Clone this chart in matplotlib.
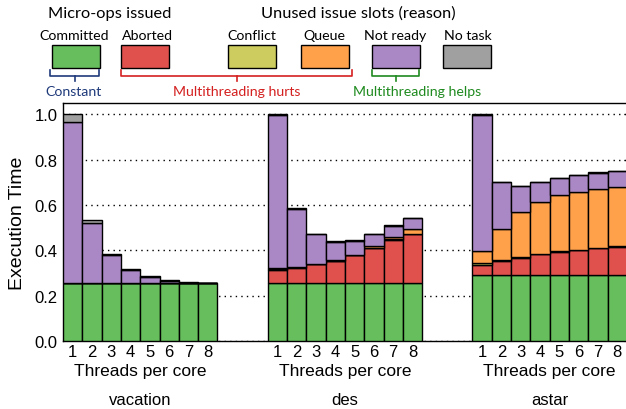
import matplotlib
matplotlib.use('Agg')
import matplotlib.pyplot as plt
from matplotlib.patches import Rectangle
from matplotlib.lines import Line2D
import numpy as np

plt.rcParams['font.family'] = ['Liberation Sans', 'DejaVu Sans']

# data
benchmarks = ['vacation', 'des', 'astar']
threads = ['1', '2', '3', '4', '5', '6', '7', '8']
components = ['Committed', 'Aborted', 'Conflict', 'Queue', 'Not ready', 'No task']
colors = ['#66bf5c', '#e0514d', '#cdcc5e', '#ffa04a', '#aa88c5', '#a0a0a0']

committed = {
    'vacation': [0.254] * 8,
    'des': [0.254] * 8,
    'astar': [0.292] * 8,
}
aborted = {
    'vacation': [0, 0, 0, 0, 0, 0, 0, 0],
    'des': [0.059, 0.068, 0.084, 0.100, 0.125, 0.156, 0.192, 0.217],
    'astar': [0.043, 0.059, 0.075, 0.090, 0.101, 0.109, 0.118, 0.123],
}
conflict = {
    'vacation': [0, 0, 0, 0, 0, 0, 0, 0],
    'des': [0.006, 0.003, 0.002, 0.001, 0.001, 0.002, 0.003, 0.003],
    'astar': [0.008, 0.007, 0.003, 0.002, 0.002, 0.002, 0.002, 0.002],
}
queue = {
    'vacation': [0, 0, 0, 0, 0, 0, 0, 0],
    'des': [0.001, 0.001, 0.001, 0.001, 0.001, 0.008, 0.010, 0.018],
    'astar': [0.052, 0.134, 0.200, 0.230, 0.247, 0.255, 0.259, 0.263],
}
not_ready = {
    'vacation': [0.711, 0.268, 0.125, 0.061, 0.029, 0.012, 0.004, 0.001],
    'des': [0.677, 0.258, 0.130, 0.081, 0.061, 0.052, 0.050, 0.049],
    'astar': [0.603, 0.209, 0.114, 0.086, 0.075, 0.074, 0.071, 0.070],
}
no_task = {
    'vacation': [0.035, 0.012, 0.004, 0.003, 0.003, 0.003, 0.003, 0.002],
    'des': [0.003, 0.002, 0.002, 0.002, 0.002, 0.002, 0.002, 0.002],
    'astar': [0.002] * 8,
}
series = [committed, aborted, conflict, queue, not_ready, no_task]

group_step = 10.6

fig = plt.figure(figsize=(6.26, 4.10), dpi=100)
ax = fig.add_axes([0.1006, 0.1659, 0.9024, 0.5804])

ticks_x = []
tick_lab = []
for g, b in enumerate(benchmarks):
    x = g * group_step + np.arange(8) + 0.5
    bottom = np.zeros(8)
    for s, c in zip(series, colors):
        v = np.array(s[b])
        ax.bar(x, v, width=1.0, bottom=bottom, color=c, edgecolor='black',
               linewidth=1.0, zorder=3)
        bottom += v
    ticks_x += list(x)
    tick_lab += threads
    xc = g * group_step + 4
    ax.annotate('Threads per core', xy=(xc, 0), xycoords=('data', 'axes fraction'),
                xytext=(0, -21.5), textcoords='offset points', ha='center', va

='center', fontsize=12.5)
    ax.annotate(b, xy=(xc, 0), xycoords=('data', 'axes fraction'),
                xytext=(0, -42), textcoords='offset points', ha='center', va='center',
                fontsize=12)

ax.set_xticks(ticks_x)
ax.set_xticklabels(tick_lab, fontsize=12)
ax.tick_params(axis='x', length=0, pad=2)
ax.set_xlim(0, 2 * group_step + 8 + 0.05)
ax.set_ylim(0, 1.05)
ax.set_yticks([0.0, 0.2, 0.4, 0.6, 0.8, 1.0])
ax.set_yticklabels(['0.0', '0.2', '0.4', '0.6', '0.8', '1.0'], fontsize=12)
ax.tick_params(axis='y', direction='in', length=3, right=True, left=False, pad=4)
ax.yaxis.grid(True, linestyle=(0, (1, 3)), color='black', linewidth=1.0, zorder=0)
ax.set_ylabel('Execution Time', fontsize=14, labelpad=6)
for sp in ax.spines.values():
    sp.set_linewidth(1.0)

# legend on top, drawn in figure pixels
W, H = 626.0, 410.0
def fx(px):
    return px / W
def fy(py):
    return 1 - py / H

lfont = ['Lato', 'DejaVu Sans']
fig.text(fx(110), fy(14), 'Micro-ops issued', ha='center', va='center', fontsize=11.8, family=lfont)
fig.text(fx(358), fy(14), 'Unused issue slots (reason)', ha='center', va='center', fontsize=11.8, family=lfont)

box_left = [52, 121, 228, 301, 372, 443]
lab_x = [74, 147, 252, 324, 395, 468]
for name, c, bx, lx in zip(components, colors, box_left, lab_x):
    fig.add_artist(Rectangle((fx(bx), fy(69)), fx(48), fy(46) - fy(69),
                             transform=fig.transFigure, facecolor=c,
                             edgecolor='black', linewidth=1.0))
    fig.text(fx(lx), fy(36), name, ha='center', va='center', fontsize=10.2, family=lfont)

brackets = [
    (50, 99, '#1f3a7a', 'Constant', 74),
    (121, 352, '#d42020', 'Multithreading hurts', 237),
    (372, 419, '#1f8a1f', 'Multithreading helps', 417),
]
for x0, x1, c, t, tx in brackets:
    xm = (x0 + x1) / 2
    fig.add_artist(Line2D([fx(x0), fx(x0), fx(x1), fx(x1)], [fy(71), fy(77), fy(77), fy(71)],
                          transform=fig.transFigure, color=c, linewidth=1.2))
    fig.add_artist(Line2D([fx(xm), fx(xm)], [fy(77), fy(82)],
                          transform=fig.transFigure, color=c, linewidth=1.2))
    fig.text(fx(tx), fy(92), t, ha='center', va='center', fontsize=10.2, color=c, family=lfont)

fig.savefig('out.png', dpi=100)
